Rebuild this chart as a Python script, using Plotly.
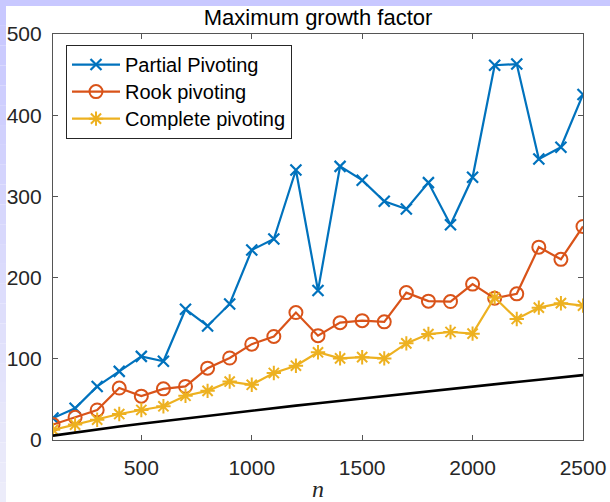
import plotly.graph_objects as go

# ---- data ----
n_values = [100, 200, 300, 400, 500, 600, 700, 800, 900, 1000, 1100, 1200, 1300,
            1400, 1500, 1600, 1700, 1800, 1900, 2000, 2100, 2200, 2300, 2400, 2500]
partial = [27, 39, 66, 84.5, 103, 97, 161, 140.5, 167.5, 234, 247.5, 332.5, 184,
           337, 320, 294, 284.5, 317, 265, 323.5, 461.5, 463, 346, 360.5, 425.5]
rook = [19, 28, 37, 64, 54, 63, 66, 88.5, 101, 118, 127.5, 157, 128.5,
        144.5, 147, 145.5, 181.5, 171, 170.5, 192, 174.5, 180, 237.5, 222.5, 263]
complete = [12.5, 19, 25, 32, 37, 41.5, 54.5, 60.5, 72, 68, 82.5, 91.5, 108,
            100.5, 102, 100.5, 119, 130.5, 133, 131, 175.5, 149, 163, 168.5, 165.5]
reference = [5.4, 9.4, 13.1, 16.7, 20.1, 23.4, 26.7, 29.9, 33.1, 36.2, 39.3, 42.3, 45.3,
             48.3, 51.3, 54.2, 57.1, 60.0, 62.9, 65.8, 68.6, 71.5, 74.3, 77.1, 79.9]

series_names = ["Partial Pivoting", "Rook pivoting", "Complete pivoting"]
x_tickvals = [500, 1000, 1500, 2000, 2500]
y_tickvals = [0, 100, 200, 300, 400, 500]
title_text = "Maximum growth factor"
x_label = "n"

BLUE = "#0072BD"
ORANGE = "#D95319"
YELLOW = "#EDB120"
AX = "#262626"

W, H = 610, 502
ML, MR, MT, MB = 53, 27, 34, 62
PW, PH = W - ML - MR, H - MT - MB


def legend_label(s):
    return f'<span style="font-size:20px">{s}</span>'


fig = go.Figure()

fig.add_trace(go.Scatter(
    x=n_values, y=partial, name=legend_label(series_names[0]), mode="lines+markers",
    line=dict(color=BLUE, width=2.2),
    marker=dict(symbol="x-thin-open", size=11, color=BLUE, line=dict(color=BLUE, width=2.2)),
))
fig.add_trace(go.Scatter(
    x=n_values, y=rook, name=legend_label(series_names[1]), mode="lines+markers",
    line=dict(color=ORANGE, width=2.2),
    marker=dict(symbol="circle-open", size=13, color=ORANGE, line=dict(color=ORANGE, width=2)),
))
fig.add_trace(go.Scatter(
    x=n_values, y=complete, name=legend_label(series_names[2]), mode="lines+markers",
    line=dict(color=YELLOW, width=2.2),
    marker=dict(symbol="asterisk-open", size=12, color=YELLOW, line=dict(color=YELLOW, width=2)),
))
fig.add_trace(go.Scatter(
    x=n_values, y=reference, mode="lines", showlegend=False,
    line=dict(color="black", width=2.6), hoverinfo="skip",
))


def px_to_paper_x(px):
    return (px - ML) / PW


def px_to_paper_y(py):
    return (H - MB - py) / PH


# lavender frame strips (top and left), rest of the page white
shapes = [
    dict(type="rect", xref="paper", yref="paper", layer="below",
         x0=px_to_paper_x(0), x1=px_to_paper_x(W), y0=px_to_paper_y(H), y1=px_to_paper_y(0),
         fillcolor="white", line=dict(width=0)),
    dict(type="rect", xref="paper", yref="paper", layer="below",
         x0=px_to_paper_x(0), x1=px_to_paper_x(W), y0=px_to_paper_y(6), y1=px_to_paper_y(0),
         fillcolor="#C8C8FF", line=dict(width=0)),
]
steps = 25
for i in range(steps):
    t = i / (steps - 1)
    r = int(200 + (236 - 200) * t)
    g = int(200 + (236 - 200) * t)
    b = int(255 + (250 - 255) * t)
    y0 = 6 + (H - 6) * i / steps
    y1 = 6 + (H - 6) * (i + 1) / steps
    shapes.append(dict(type="rect", xref="paper", yref="paper", layer="below",
                       x0=px_to_paper_x(0), x1=px_to_paper_x(6),
                       y0=px_to_paper_y(y1), y1=px_to_paper_y(y0),
                       fillcolor=f"rgb({r},{g},{b})", line=dict(width=0)))

fig.update_layout(
    template="none",
    width=W, height=H,
    margin=dict(l=ML, r=MR, t=MT, b=MB, pad=0, autoexpand=False),
    paper_bgcolor="white", plot_bgcolor="white",
    font=dict(family="Liberation Sans, Arial, sans-serif", color=AX),
    title=dict(text=title_text, x=(ML + PW / 2) / W, xanchor="center",
               y=1 - 17 / H, yanchor="middle", yref="container",
               font=dict(size=22, color="black")),
    shapes=shapes,
    showlegend=True,
    legend=dict(
        x=px_to_paper_x(66), y=px_to_paper_y(45), xanchor="left", yanchor="top",
        bgcolor="white", bordercolor=AX, borderwidth=1,
        font=dict(size=18.5, color="black"), itemwidth=48,
        tracegroupgap=0,
    ),
)

fig.update_xaxes(
    range=[100, 2500], tickvals=x_tickvals, ticktext=[str(v) for v in x_tickvals],
    showgrid=False, zeroline=False, automargin=False,
    showline=True, linecolor="#555555", linewidth=1.2, mirror="allticks",
    ticks="inside", ticklen=5, tickwidth=1, tickcolor="#555555",
    tickfont=dict(size=21, color=AX), ticklabelstandoff=9,
    title=dict(text=f"<i>{x_label}</i>", standoff=15,
               font=dict(family="Liberation Serif, DejaVu Serif, serif", size=24, color=AX)),
)
fig.update_yaxes(
    range=[0, 500], tickvals=y_tickvals, ticktext=[str(v) for v in y_tickvals],
    showgrid=False, zeroline=False, automargin=False,
    showline=True, linecolor="#555555", linewidth=1.2, mirror="allticks",
    ticks="inside", ticklen=5, tickwidth=1, tickcolor="#555555",
    tickfont=dict(size=21, color=AX), ticklabelstandoff=6,
)

fig.write_html("out.html", config={"displayModeBar": False},
               post_script="document.body.style.margin='0px';document.body.style.overflow='hidden';")
